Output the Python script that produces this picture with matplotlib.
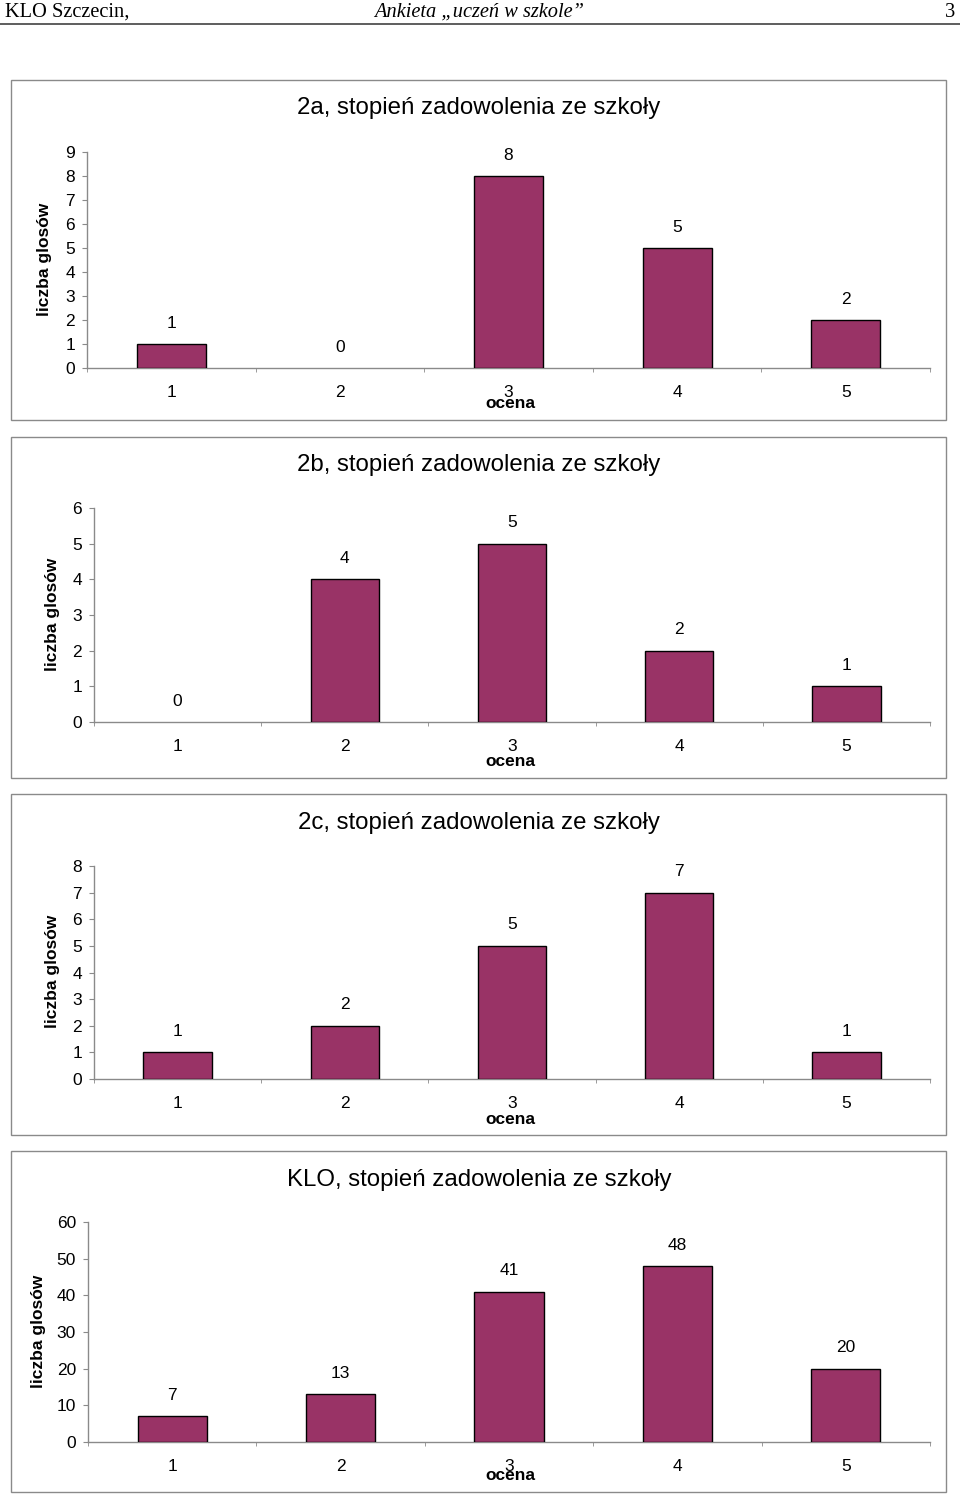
import matplotlib
matplotlib.use("Agg")
import matplotlib.pyplot as plt
from matplotlib.patches import Rectangle
from matplotlib.lines import Line2D
from matplotlib.ticker import MultipleLocator, FixedLocator

W, H = 960, 1496

categories = ["1", "2", "3", "4", "5"]
titles = ["2a, stopień zadowolenia ze szkoły",
          "2b, stopień zadowolenia ze szkoły",
          "2c, stopień zadowolenia ze szkoły",
          "KLO, stopień zadowolenia ze szkoły"]
values_2a = [1, 0, 8, 5, 2]
values_2b = [0, 4, 5, 2, 1]
values_2c = [1, 2, 5, 7, 1]
values_klo = [7, 13, 41, 48, 20]
ymax = [9, 6, 8, 60]
ystep = [1, 1, 1, 10]
ylabel = "liczba glosów"
xlabel = "ocena"

header_left = "KLO Szczecin,"
header_mid = "Ankieta „uczeń w szkole”"
header_right = "3"

series = [values_2a, values_2b, values_2c, values_klo]

# layout (pixels)
boxes = [(11, 80, 946, 420), (11, 437, 946, 778), (11, 794, 946, 1135), (11, 1151, 946, 1492)]
axes_px = [(87, 930, 152, 368), (94, 930, 508, 722), (94, 930, 866, 1079), (88, 930, 1222, 1442)]
title_y = [108, 465, 823, 1180]
ylab_x = [44, 53, 53, 38]
ocena_y = [404, 761, 1119, 1476]

BAR = "#993366"
GRID = "#8a8a8a"

plt.rcParams['font.family'] = ['Liberation Sans', 'DejaVu Sans']
fig = plt.figure(figsize=(W / 100, H / 100), dpi=100)

def fx(x):
    return x / W

def fy(y):
    return 1 - y / H

# header
serif = ['Liberation Serif', 'DejaVu Serif']
fig.text(fx(5), fy(12.5), header_left, family=serif, fontsize=14.7, ha='left', va='center')
fig.text(fx(479), fy(12.5), header_mid, family=serif, fontsize=14.7, style='italic', ha='center', va='center')
fig.text(fx(955), fy(12.5), header_right, family=serif, fontsize=14.7, ha='right', va='center')
fig.add_artist(Line2D([0, 1], [fy(24), fy(24)], transform=fig.transFigure, color='#505050', lw=1.3))

for i in range(4):
    bx0, by0, bx1, by1 = boxes[i]
    fig.add_artist(Rectangle((fx(bx0), fy(by1)), (bx1 - bx0) / W, (by1 - by0) / H,
                             transform=fig.transFigure, fill=False, edgecolor=GRID, lw=1.0))
    l, r, t, b = axes_px[i]
    ax = fig.add_axes([fx(l), fy(b), (r - l) / W, (b - t) / H])
    xs = list(range(1, len(categories) + 1))
    lws = [1.0 if v else 0.0 for v in series[i]]
    ax.bar(xs, series[i], width=0.41, color=BAR, edgecolor='black', linewidth=lws, zorder=3)
    ax.set_xlim(0.5, len(categories) + 0.5)
    ax.set_ylim(0, ymax[i])
    ax.yaxis.set_major_locator(MultipleLocator(ystep[i]))
    ax.set_xticks(xs)
    ax.set_xticklabels(categories)
    ax.xaxis.set_minor_locator(FixedLocator([k + 0.5 for k in range(0, len(categories) + 1)]))
    for s in ['top', 'right']:
        ax.spines[s].set_visible(False)
    for s in ['left', 'bottom']:
        ax.spines[s].set_color(GRID)
        ax.spines[s].set_linewidth(1.0)
    ax.tick_params(axis='x', which='major', length=0, pad=12, labelsize=12.5)
    ax.tick_params(axis='x', which='minor', length=3, color=GRID, direction='out')
    ax.tick_params(axis='y', which='major', length=3.6, color=GRID, direction='out', pad=5, labelsize=12.5)
    for x, v in zip(xs, series[i]):
        ax.annotate(str(v), (x, v), xytext=(0, 15.1), textcoords='offset points',
                    ha='center', va='center', fontsize=12.5)
    fig.text(fx(479), fy(title_y[i]), titles[i], fontsize=17.3, ha='center', va='center')
    fig.text(fx(ylab_x[i]), fy((t + b) / 2 - 1), ylabel, fontsize=12.5, fontweight='bold',
             rotation=90, ha='center', va='center')
    fig.text(fx(510), fy(ocena_y[i]), xlabel, fontsize=12.5, fontweight='bold', ha='center', va='center')

fig.savefig("out.png", dpi=100)
